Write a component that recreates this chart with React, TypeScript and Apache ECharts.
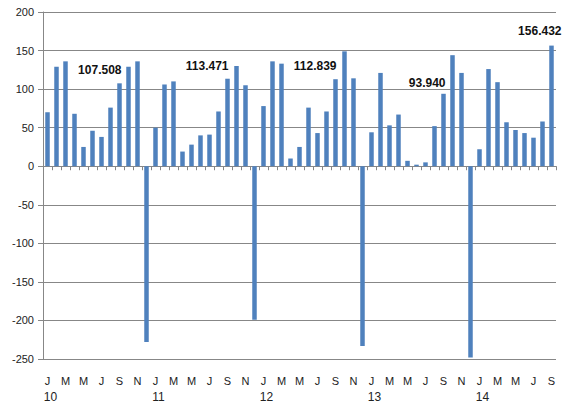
import React, { useEffect, useRef } from "react";
import * as echarts from "echarts";

const monthLetters = ["J", "F", "M", "A", "M", "J", "J", "A", "S", "O", "N", "D"];
const years = ["10", "11", "12", "13", "14"];

const values2010 = [70, 129, 136, 68, 25, 46, 38, 76, 107.508, 129, 136, -228];
const values2011 = [50, 106, 110, 19, 28, 40, 41, 71, 113.471, 130, 105, -199];
const values2012 = [78, 136, 133, 10, 25, 76, 43, 71, 112.839, 149, 114, -233];
const values2013 = [44, 121, 53, 67, 7, 2, 5, 52, 93.94, 144, 121, -248];
const values2014 = [22, 126, 109, 57, 47, 43, 37, 58, 156.432];

const labelledMonth = 8; // September bars carry a data label

const yTicks = { min: -250, max: 200, interval: 50 };

export default function App() {
  const ref = useRef<HTMLDivElement>(null);

  useEffect(() => {
    if (!ref.current) return;
    const chart = echarts.init(ref.current, undefined, { renderer: "svg" });

    const allYears = [values2010, values2011, values2012, values2013, values2014];
    const labelShiftX = [2, 1, 1, 2, 10];
    const labelShiftY = [-2, -2, -2, 0, -4];
    const categories: string[] = [];
    const seriesData: any[] = [];
    allYears.forEach((vals, yi) => {
      vals.forEach((v, mi) => {
        categories.push("20" + years[yi] + "-" + String(mi + 1).padStart(2, "0"));
        if (mi === labelledMonth) {
          seriesData.push({
            value: v,
            label: {
              show: true,
              position: "top",
              align: "right",
              offset: [labelShiftX[yi], labelShiftY[yi]],
              formatter: (p: any) => Number(p.value).toFixed(3),
              fontFamily: "Liberation Sans, Arial, sans-serif",
              fontWeight: "bold",
              fontSize: 12,
              color: "#111",
            },
          });
        } else {
          seriesData.push(v);
        }
      });
    });

    const fmt = (_v: string, index: number) => {
      const m = index % 12;
      const y = Math.floor(index / 12);
      return m === 0
        ? "{m|" + monthLetters[m] + "}\n{y|" + years[y] + "}"
        : "{m|" + monthLetters[m] + "}";
    };

    const gray = "#878787";
    const font = "Liberation Sans, Arial, sans-serif";

    chart.setOption({
      animation: false,
      backgroundColor: "#ffffff",
      grid: { left: 43, right: 7, top: 12, bottom: 48, containLabel: false },
      xAxis: [
        {
          type: "category",
          data: categories,
          position: "bottom",
          axisLine: { onZero: true, lineStyle: { color: gray, width: 1 } },
          axisTick: { show: true, interval: 0, length: 4, lineStyle: { color: gray } },
          axisLabel: { show: false },
          splitLine: { show: false },
        },
        {
          type: "category",
          data: categories,
          position: "bottom",
          axisLine: { show: false, onZero: false },
          axisTick: { show: false },
          axisLabel: {
            show: true,
            interval: 1,
            margin: 14,
            formatter: fmt,
            color: "#222",
            rich: {
              m: { fontFamily: font, fontSize: 11, lineHeight: 16, color: "#222", align: "center" },
              y: {
                fontFamily: font,
                fontSize: 12,
                lineHeight: 16,
                color: "#222",
                align: "center",
                padding: [0, 0, 0, 6],
              },
            },
          },
          splitLine: { show: false },
        },
      ],
      yAxis: {
        type: "value",
        min: yTicks.min,
        max: yTicks.max,
        interval: yTicks.interval,
        axisLine: { show: true, lineStyle: { color: gray } },
        axisTick: { show: true, length: 5, lineStyle: { color: gray } },
        axisLabel: {
          margin: 9,
          fontFamily: font,
          fontSize: 11,
          color: "#222",
        },
        splitLine: { show: true, lineStyle: { color: gray, width: 1 } },
      },
      series: [
        {
          type: "bar",
          xAxisIndex: 0,
          data: seriesData,
          barWidth: "50%",
          itemStyle: { color: "#4f81bd" },
        },
      ],
    });

    return () => chart.dispose();
  }, []);

  return (
    <div
      ref={ref}
      style={{ position: "absolute", left: 0, top: 0, width: 563, height: 407 }}
    />
  );
}
